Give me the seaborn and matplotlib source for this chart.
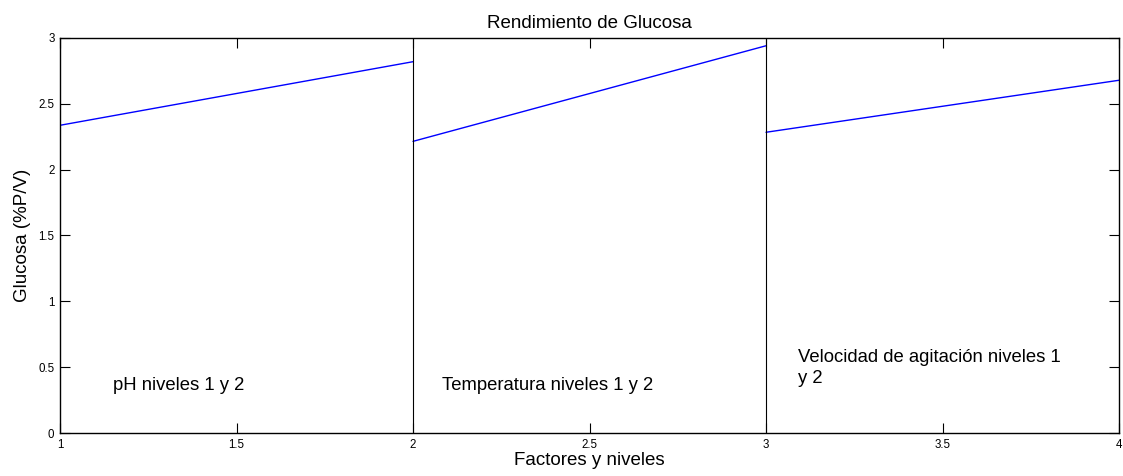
import matplotlib
matplotlib.use("Agg")
import matplotlib.pyplot as plt
import seaborn as sns
import pandas as pd

# ---- data ----
factores = ["pH", "Temperatura", "Velocidad de agitación"]
nivel_1 = [2.337, 2.215, 2.284]
nivel_2 = [2.820, 2.941, 2.679]
etiquetas = ["pH niveles 1 y 2", "Temperatura niveles 1 y 2",
             "Velocidad de agitación niveles 1\ny 2"]
etiqueta_x = [1.150, 2.082, 3.091]
etiqueta_y = [0.327, 0.327, 0.382]
separadores = [2, 3]
xticks = [1, 1.5, 2, 2.5, 3, 3.5, 4]
xtick_labels = ["1", "1.5", "2", "2.5", "3", "3.5", "4"]
yticks = [0, 0.5, 1, 1.5, 2, 2.5, 3]
ytick_labels = ["0", "0.5", "1", "1.5", "2", "2.5", "3"]

rows = []
for i, f in enumerate(factores):
    rows.append({"factor": f, "x": i + 1, "y": nivel_1[i]})
    rows.append({"factor": f, "x": i + 2, "y": nivel_2[i]})
df = pd.DataFrame(rows)

sns.set_style("ticks")
plt.rcParams["font.family"] = ["Liberation Sans", "DejaVu Sans"]
plt.rcParams["text.color"] = "black"
plt.rcParams["axes.labelcolor"] = "black"

fig = plt.figure(figsize=(11.23, 4.76), dpi=100)
ax = fig.add_axes([60 / 1123, 1 - 433 / 476, (1119 - 60) / 1123, (433 - 38) / 476])

sns.lineplot(data=df, x="x", y="y", units="factor", estimator=None,
             color="#0000ff", linewidth=1.0, ax=ax, legend=False)

ax.vlines(separadores, 0, 3, colors="black", linewidth=0.8)

for t, tx, ty in zip(etiquetas, etiqueta_x, etiqueta_y):
    ax.text(tx, ty, t, fontsize=13.3, ha="left", va="baseline",
            linespacing=1.27, color="black")

ax.set_xlim(1, 4)
ax.set_ylim(0, 3)
ax.set_xticks(xticks)
ax.set_xticklabels(xtick_labels)
ax.set_yticks(yticks)
ax.set_yticklabels(ytick_labels)
ax.tick_params(direction="in", length=7.5, width=0.8, top=True, right=True,
               labelsize=8.3, colors="black", pad=4)

for s in ax.spines.values():
    s.set_visible(True)
    s.set_color("black")
    s.set_linewidth(1.0)

ax.set_title("Rendimiento de Glucosa", fontsize=13.5, pad=7, color="black")
ax.set_xlabel("Factores y niveles", fontsize=13.5, labelpad=1, color="black")
ax.set_ylabel("Glucosa (%P/V)", fontsize=13.5, labelpad=5, color="black")

fig.savefig("out.png", dpi=100)
